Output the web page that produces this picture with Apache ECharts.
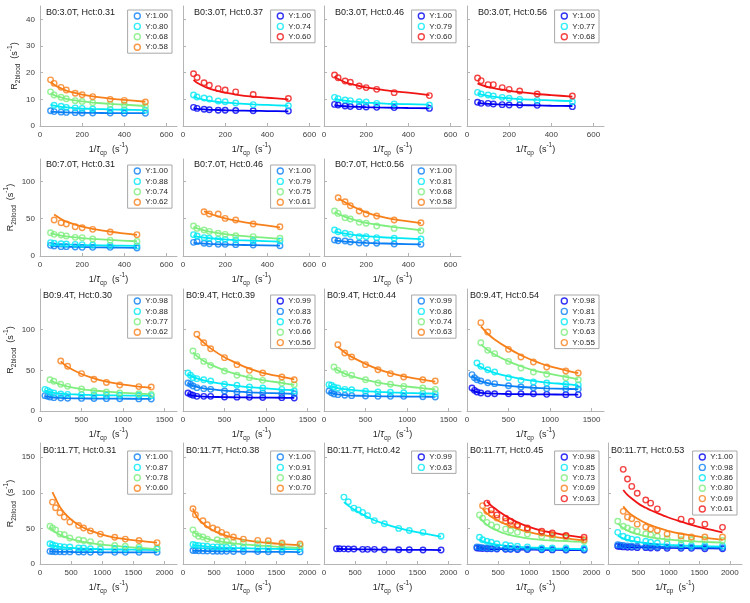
<!DOCTYPE html>
<html>
<head>
<meta charset="utf-8">
<script src="https://cdn.jsdelivr.net/npm/echarts@6.0.0/dist/echarts.min.js"></script>
<style>html,body{margin:0;padding:0;background:#fff}#c{width:750px;height:603px}</style>
</head>
<body>
<div id="c"></div>
<script>
// ---------------- DATA ----------------
const x3T = [50, 67, 100, 125, 167, 200, 250, 333, 400, 500];
const x7T = [50, 67, 100, 125, 167, 200, 250, 333, 460];
const x9T = [60, 90, 120, 167, 250, 333, 500, 650, 800, 960, 1190, 1340];
const x11T = [160, 200, 250, 320, 390, 480, 550, 620, 700, 810, 970, 1200, 1370, 1590, 1880];

const xTicks3T = [0, 200, 400, 600];
const xTicks7T = [0, 200, 400, 600];
const xTicks9T = [0, 500, 1000, 1500];
const xTicks11T = [0, 500, 1000, 1500, 2000];
const yTicks3T = [0, 10, 20, 30, 40];
const yTicks7T = [0, 50, 100];
const yTicks9T = [0, 50, 100];
const yTicks11T = [0, 50, 100, 150];

// 3.0 T
const Y_3T_031 = ['Y:1.00', 'Y:0.80', 'Y:0.68', 'Y:0.58'];
const P_3T_031 = [
  [5.7, 5.4, 5.2, 5.1, 5.0, 4.9, 4.9, 4.9, 4.8, 4.8],
  [null, 7.8, 7.4, 7.0, 6.8, 6.6, 6.4, 6.2, 6.0, 5.9],
  [12.8, 11.6, 10.8, 10.2, 9.5, 9.2, 8.7, 8.2, 7.9, 7.3],
  [17.3, 16.0, 14.5, 13.5, 12.3, 11.7, 11.0, 10.0, 9.6, 9.0]];
const F_3T_031 = [
  [5.4, 5.3, 5.15, 5.1, 5.0, 4.95, 4.9, 4.85, 4.8, 4.8],
  [8.0, 7.6, 7.2, 7.0, 6.7, 6.55, 6.4, 6.2, 6.1, 5.95],
  [12.3, 11.6, 10.7, 10.2, 9.6, 9.2, 8.8, 8.3, 8.0, 7.5],
  [16.5, 15.5, 14.1, 13.3, 12.4, 11.8, 11.1, 10.3, 9.8, 9.1]];

const Y_3T_037 = ['Y:1.00', 'Y:0.74', 'Y:0.60'];
const P_3T_037 = [
  [7.0, 6.6, 6.3, 6.1, 5.9, 5.9, 5.8, 5.7, null, 5.6],
  [11.6, 10.9, 10.5, 10.1, 9.4, 9.1, 8.6, 8.0, null, 7.6],
  [19.6, 18.2, 16.2, 15.3, 14.0, 13.5, 12.8, 11.8, null, 10.3]];
const F_3T_037 = [
  [6.6, 6.4, 6.2, 6.1, 6.0, 5.9, 5.8, 5.7, 5.6, 5.5],
  [11.0, 10.5, 9.8, 9.5, 9.0, 8.8, 8.5, 8.1, 7.9, 7.6],
  [17.3, 16.2, 14.8, 14.0, 13.1, 12.5, 11.8, 11.0, 10.6, 10.0]];

const Y_3T_046 = ['Y:1.00', 'Y:0.79', 'Y:0.60'];
const P_3T_046 = [
  [8.1, 7.9, 7.5, 7.3, 7.25, 7.1, 7.0, 6.9, null, 6.6],
  [10.75, 10.25, 9.75, 9.5, 9.1, 9.0, 8.5, 8.25, null, 7.9],
  [19.1, 18.1, 16.9, 16.4, 15.0, 14.4, 13.75, 12.5, null, 11.4]];
const F_3T_046 = [
  [7.8, 7.6, 7.4, 7.3, 7.15, 7.05, 6.95, 6.85, 6.75, 6.65],
  [10.3, 9.9, 9.5, 9.3, 9.0, 8.8, 8.6, 8.3, 8.2, 8.0],
  [18.6, 17.6, 16.4, 15.8, 15.0, 14.5, 13.9, 13.0, 12.5, 11.6]];

const Y_3T_056 = ['Y:1.00', 'Y:0.77', 'Y:0.68'];
const P_3T_056 = [
  [8.9, 8.5, 8.5, 8.25, 8.0, 7.9, 7.9, 7.75, null, 7.25],
  [12.6, 12.0, 11.6, 11.25, 10.75, 10.4, 10.0, 9.6, null, 9.1],
  [18.0, 17.0, 15.5, 15.5, 14.4, 13.75, 13.1, 12.0, null, 11.25]];
const F_3T_056 = [
  [8.6, 8.5, 8.3, 8.2, 8.05, 7.95, 7.85, 7.7, 7.6, 7.5],
  [12.2, 11.8, 11.3, 11.0, 10.6, 10.4, 10.1, 9.8, 9.6, 9.3],
  [16.0, 15.4, 14.6, 14.2, 13.6, 13.2, 12.7, 12.0, 11.6, 11.0]];

// 7.0 T
const Y_7T_031 = ['Y:1.00', 'Y:0.88', 'Y:0.74', 'Y:0.62'];
const P_7T_031 = [
  [14.3, 13.4, 12.5, 12.5, 12.0, 11.6, 11.6, 11.6, 10.7],
  [17.9, 17.0, 16.5, 16.1, 15.6, 15.2, 14.7, 14.3, 13.4],
  [31.2, 29.0, 28.1, 26.8, 25.0, 24.6, 22.8, 21.0, 19.6],
  [null, 48.2, 44.6, 42.9, 39.3, 37.9, 35.7, 32.1, 28.6]];
const F_7T_031 = [
  [13.5, 13.2, 12.8, 12.5, 12.2, 12.0, 11.7, 11.4, 11.0],
  [16.5, 16.2, 15.7, 15.4, 15.0, 14.8, 14.5, 14.1, 13.6],
  [30.5, 29.2, 27.4, 26.3, 24.9, 24.0, 22.9, 21.5, 19.8],
  [null, 55.5, 49.5, 46.0, 42.0, 39.5, 36.5, 32.8, 28.3]];

const Y_7T_046 = ['Y:1.00', 'Y:0.79', 'Y:0.75', 'Y:0.61'];
const P_7T_046 = [
  [18.3, 19.2, 17.0, 16.5, 15.6, 15.6, 15.2, 14.7, 13.8],
  [28.6, 26.8, 24.6, 23.7, 22.3, 22.3, 21.4, 20.5, 20.1],
  [40.2, 37.0, 34.8, 33.0, 30.4, 29.0, 27.2, 25.9, 23.7],
  [null, null, 59.4, 56.2, 56.2, 50.4, 48.2, 42.9, 39.3]];
const F_7T_046 = [
  [17.6, 17.2, 16.6, 16.2, 15.7, 15.4, 15.0, 14.5, 13.8],
  [27.0, 26.0, 24.6, 23.8, 22.8, 22.2, 21.4, 20.5, 19.3],
  [39.0, 37.0, 34.3, 32.7, 30.6, 29.3, 27.7, 25.7, 23.0],
  [null, null, 60.0, 57.0, 53.0, 50.5, 47.5, 43.5, 38.5]];

const Y_7T_056 = ['Y:1.00', 'Y:0.81', 'Y:0.68', 'Y:0.58'];
const P_7T_056 = [
  [21.4, 20.5, 20.1, 18.8, 17.4, 17.0, 17.0, 16.1, 15.6],
  [34.8, 32.6, 30.4, 29.0, 25.9, 25.9, 24.6, 23.7, 22.8],
  [60.3, 57.1, 51.3, 49.6, 45.1, 43.8, 40.2, 37.0, 33.9],
  [null, 78.1, 72.8, 67.4, 60.3, 56.2, 53.6, 48.2, 44.6]];
const F_7T_056 = [
  [20.8, 20.2, 19.3, 18.8, 18.0, 17.6, 17.1, 16.4, 15.6],
  [33.0, 31.8, 30.0, 29.0, 27.5, 26.6, 25.5, 24.2, 22.6],
  [59.0, 56.5, 52.5, 50.0, 46.5, 44.5, 42.0, 38.8, 34.5],
  [null, 77.0, 72.0, 68.0, 62.5, 58.5, 54.0, 49.0, 44.0]];

// 9.4 T
const Y_9T_030 = ['Y:0.98', 'Y:0.88', 'Y:0.77', 'Y:0.62'];
const P_9T_030 = [
  [18.9, 18.0, 17.2, 16.4, 16.0, 15.6, 15.5, 15.3, 15.2, 15.0, 14.9, 14.8],
  [26.6, 25.4, 23.4, 22.1, 20.9, 20.5, 20.1, 19.7, 19.3, 19.3, 19.3, 18.9],
  [null, null, 38.5, 36.5, 32.8, 30.3, 27.0, 24.6, 23.4, 22.1, 21.3, 20.5],
  [null, null, null, null, 61.5, 55.0, 46.0, 39.0, 35.0, 32.0, 30.0, 29.5]];
const F_9T_030 = [
  [18.3, 17.6, 17.1, 16.6, 16.1, 15.8, 15.5, 15.3, 15.2, 15.1, 15.0, 14.9],
  [25.0, 24.0, 23.2, 22.3, 21.3, 20.7, 20.0, 19.6, 19.3, 19.1, 18.9, 18.7],
  [null, null, 37.5, 35.5, 32.3, 30.0, 27.0, 25.2, 23.8, 22.6, 21.3, 20.5],
  [null, null, null, null, 61.0, 54.0, 45.5, 40.0, 36.0, 33.0, 30.0, 28.5]];

const Y_9T_039 = ['Y:0.99', 'Y:0.83', 'Y:0.76', 'Y:0.66', 'Y:0.56'];
const P_9T_039 = [
  [22.1, 20.5, 19.3, 18.0, 18.0, 18.0, 17.2, 17.0, 16.8, 16.6, 16.4, 16.0],
  [34.4, 32.8, 30.7, 28.7, 27.5, 26.6, 24.6, 23.4, 22.5, 22.1, 21.3, 21.3],
  [46.7, 43.9, 41.0, 39.8, 38.5, 36.9, 32.8, 31.6, 29.5, 28.3, 26.6, 24.6],
  [null, null, 73.8, 67.2, 61.0, 56.1, 49.2, 43.9, 41.0, 37.7, 34.4, 32.4],
  [null, null, null, 94.3, 84.0, 76.6, 65.6, 57.0, 50.0, 46.7, 41.8, 38.5]];
const F_9T_039 = [
  [21.0, 19.8, 19.0, 18.3, 17.7, 17.4, 17.0, 16.8, 16.6, 16.5, 16.3, 16.2],
  [34.0, 32.5, 31.2, 29.6, 27.9, 26.8, 25.0, 23.9, 23.0, 22.3, 21.6, 21.2],
  [45.0, 43.5, 42.0, 40.0, 37.6, 35.8, 33.0, 31.0, 29.4, 28.0, 26.4, 25.5],
  [null, null, 72.0, 67.5, 61.5, 57.0, 50.0, 45.0, 41.0, 38.0, 34.5, 32.0],
  [null, null, null, 92.0, 84.0, 77.0, 66.0, 58.5, 52.0, 47.0, 42.0, 39.0]];

const Y_9T_044 = ['Y:0.99', 'Y:0.86', 'Y:0.74', 'Y:0.63'];
const P_9T_044 = [
  [24.6, 22.5, 20.9, 20.1, 19.3, 18.9, 18.4, 18.0, 18.0, 18.0, 17.6, 17.2],
  [32.4, 31.6, 29.5, 28.3, 26.6, 26.2, 24.2, 23.4, 23.0, 22.5, 21.7, 21.3],
  [null, null, 54.1, 50.0, 45.9, 43.9, 38.5, 34.4, 32.8, 30.3, 28.3, 26.6],
  [null, null, null, 81.6, 71.3, 66.4, 57.0, 50.8, 45.9, 41.8, 38.5, 36.9]];
const F_9T_044 = [
  [23.5, 22.2, 21.3, 20.4, 19.5, 19.0, 18.5, 18.2, 18.0, 17.8, 17.6, 17.4],
  [31.0, 30.0, 29.2, 28.2, 26.8, 25.9, 24.4, 23.5, 22.8, 22.3, 21.7, 21.3],
  [null, null, 53.0, 50.0, 46.0, 43.0, 38.3, 35.0, 32.5, 30.5, 28.0, 26.5],
  [null, null, null, 79.0, 72.0, 66.5, 58.0, 51.5, 46.5, 42.5, 38.5, 36.0]];

const Y_9T_054 = ['Y:0.98', 'Y:0.81', 'Y:0.73', 'Y:0.63', 'Y:0.55'];
const P_9T_054 = [
  [28.3, 25.4, 23.4, 22.1, 21.3, 21.3, 21.3, 21.3, 21.3, 20.5, 20.1, 20.1],
  [44.7, 41.0, 38.5, 36.9, 34.8, 33.6, 31.1, 29.5, 28.7, 27.5, 27.0, 27.0],
  [null, null, 59.0, 54.9, 50.8, 48.0, 41.0, 37.7, 35.7, 34.4, 32.8, 32.0],
  [null, null, null, 84.0, 74.6, 70.5, 61.0, 52.9, 48.0, 45.1, 41.0, 38.5],
  [null, null, null, 108.6, 97.1, null, 75.8, 66.4, 60.2, 54.1, 49.2, 46.7]];
const F_9T_054 = [
  [26.0, 24.2, 23.2, 22.3, 21.6, 21.3, 20.9, 20.7, 20.5, 20.4, 20.2, 20.1],
  [43.0, 40.5, 38.6, 36.5, 34.3, 32.8, 30.8, 29.5, 28.6, 27.9, 27.2, 26.8],
  [null, null, 57.0, 54.0, 50.0, 47.0, 42.5, 39.5, 37.0, 35.0, 33.0, 31.5],
  [null, null, null, 82.0, 75.0, 69.5, 61.0, 55.0, 50.0, 46.5, 42.0, 39.0],
  [null, null, null, 104.0, 95.0, 88.0, 77.0, 68.5, 62.0, 56.0, 50.0, 46.5]];

// 11.7 T
const Y_11T_031 = ['Y:1.00', 'Y:0.87', 'Y:0.78', 'Y:0.60'];
const P_11T_031 = [
  [17.8, 17.5, 17.3, 17.3, 17.0, 17.0, null, 16.8, 16.8, 16.6, 16.6, 16.4, 16.4, 16.4, 16.4],
  [28.5, 27.1, 25.7, 24.8, 23.8, 23.8, null, 22.4, 22.4, 21.5, 21.5, 21.5, 21.0, 21.0, 21.0],
  [53.0, 50.5, 48.0, 42.0, 41.0, 36.5, null, 34.0, 33.0, 31.5, 28.5, 26.0, 25.0, 24.0, 22.5],
  [null, 87.0, 79.0, 72.0, 66.0, 59.0, null, 54.0, 50.5, 46.5, 42.0, 37.5, 35.0, 33.0, 30.0]];
const F_11T_031 = [
  [17.6, 17.4, 17.3, 17.1, 17.0, 16.9, 16.8, 16.8, 16.7, 16.6, 16.5, 16.4, 16.3, 16.3, 16.2],
  [27.0, 26.0, 25.0, 24.0, 23.3, 22.7, 22.3, 22.0, 21.7, 21.3, 20.9, 20.5, 20.3, 20.0, 19.7],
  [52.0, 48.0, 44.5, 41.0, 38.5, 35.5, 34.0, 32.5, 31.0, 29.5, 27.5, 25.5, 24.0, 22.5, 21.0],
  [null, 101.0, 92.0, 80.0, 72.0, 64.0, 59.0, 55.0, 51.0, 47.0, 42.0, 37.0, 35.0, 32.5, 30.0]];

const Y_11T_038 = ['Y:1.00', 'Y:0.91', 'Y:0.80', 'Y:0.70'];
const P_11T_038 = [
  [19.0, 18.8, 18.6, 18.4, 18.2, 18.0, 18.0, 17.8, 17.8, 17.6, 17.5, 17.4, 17.3, 17.2, 17.0],
  [27.5, 26.5, 26.0, 25.5, 25.0, 24.0, 24.0, 23.5, 23.5, 23.0, 23.0, 22.5, 22.0, 22.0, 21.5],
  [48.0, 42.0, 39.0, 38.0, 35.0, null, 34.0, 32.0, 32.0, 30.4, 29.4, 28.5, 28.0, 27.0, 25.7],
  [77.6, 69.2, null, 60.7, 55.1, 50.5, 48.1, 44.4, 41.1, 37.9, 35.0, 33.2, 32.7, 29.4, 28.0]];
const F_11T_038 = [
  [18.6, 18.5, 18.4, 18.3, 18.2, 18.0, 17.9, 17.8, 17.7, 17.6, 17.4, 17.2, 17.1, 17.0, 16.8],
  [27.0, 26.3, 25.7, 25.0, 24.5, 24.0, 23.6, 23.3, 23.0, 22.6, 22.2, 21.7, 21.4, 21.1, 20.6],
  [46.0, 43.0, 40.0, 37.5, 35.5, 33.5, 32.3, 31.3, 30.2, 29.0, 27.6, 26.0, 25.0, 23.8, 22.5],
  [78.0, 70.0, 63.0, 57.0, 52.0, 47.5, 44.5, 42.0, 39.5, 37.0, 34.0, 31.0, 29.5, 28.0, 26.5]];

const Y_11T_042 = ['Y:0.99', 'Y:0.63'];
const P_11T_042 = [
  [null, 21.5, 21.5, 21.3, 21.0, 21.0, null, 20.6, 20.6, 20.6, 20.1, 20.1, 20.1, 19.6, 19.6],
  [null, null, null, 94.0, 87.5, 78.5, 76.0, 72.5, 68.0, 61.0, 56.5, 50.0, 47.0, 44.5, 39.0]];
const F_11T_042 = [
  [null, 21.2, 21.1, 21.0, 20.9, 20.8, 20.7, 20.6, 20.5, 20.4, 20.2, 20.0, 19.9, 19.8, 19.6],
  [null, null, null, 87.0, 82.0, 76.5, 73.0, 69.5, 66.0, 61.5, 56.5, 50.5, 47.0, 43.0, 38.5]];

const Y_11T_045 = ['Y:0.98', 'Y:0.98', 'Y:0.85', 'Y:0.73', 'Y:0.69', 'Y:0.63'];
const P_11T_045 = [
  [22.4, 22.0, 21.8, 21.5, 21.3, 21.0, null, 20.8, 20.6, 20.4, 20.2, 20.0, 19.8, 19.6, 19.6],
  [24.0, 23.5, 23.0, 22.5, 22.3, 22.0, null, 21.6, 21.4, 21.2, 21.0, 20.8, 20.6, 20.5, 20.5],
  [null, 37.5, 34.0, 32.0, 30.5, 28.5, null, 27.0, 25.7, 25.0, 24.0, 22.5, 22.5, 22.5, 22.5],
  [null, 69.0, 64.5, 58.5, 55.0, 52.0, null, 49.0, 47.0, 44.5, 42.0, 39.0, 38.0, 36.5, 32.0],
  [null, null, 82.0, 74.0, 70.5, 64.5, null, 60.0, 55.0, 53.0, 48.0, 43.5, 41.0, 39.0, 34.0],
  [null, null, null, 85.5, 76.0, 69.0, null, 64.5, 60.0, 55.0, 50.5, 46.0, 43.5, 40.0, 37.5]];
const F_11T_045 = [
  [21.8, 21.6, 21.4, 21.2, 21.0, 20.9, 20.8, 20.7, 20.6, 20.4, 20.2, 20.0, 19.8, 19.7, 19.5],
  [23.5, 23.2, 22.9, 22.6, 22.3, 22.1, 21.9, 21.8, 21.6, 21.4, 21.2, 20.9, 20.7, 20.5, 20.3],
  [null, 34.0, 32.0, 30.0, 28.7, 27.3, 26.5, 25.8, 25.1, 24.3, 23.4, 22.5, 22.0, 21.5, 21.0],
  [null, 66.0, 60.5, 55.0, 51.0, 47.0, 44.5, 42.5, 40.5, 38.5, 36.0, 34.0, 33.0, 32.0, 31.0],
  [null, null, 78.0, 71.0, 66.5, 62.0, 58.5, 56.0, 53.0, 49.5, 45.5, 41.0, 38.5, 36.0, 33.0],
  [null, null, null, 88.0, 82.0, 76.0, 71.5, 67.5, 63.5, 58.5, 53.0, 47.0, 44.0, 40.5, 37.0]];

const Y_11T_053 = ['Y:1.00', 'Y:0.98', 'Y:0.86', 'Y:0.80', 'Y:0.69', 'Y:0.61'];
const P_11T_053 = [
  [25.0, 24.5, 24.0, 23.5, 23.5, 23.0, null, 23.0, 22.5, 22.5, 22.0, 22.0, 22.0, 21.5, 21.5],
  [27.0, 26.5, 26.0, 25.5, 25.0, 25.0, null, 24.5, 24.5, 24.0, 24.0, 23.5, 23.5, 23.5, 23.0],
  [44.5, null, 39.0, 36.5, 35.0, 34.0, null, 32.0, 30.5, 29.5, 28.5, 27.0, 26.0, 26.0, 25.5],
  [60.0, null, 53.0, 50.5, 48.0, 46.0, null, 42.5, 41.0, 39.0, 35.5, 34.0, 34.0, 34.0, 33.0],
  [null, null, 74.0, 66.0, 63.5, 56.0, null, 52.0, 49.0, 47.0, 42.0, 39.5, 38.0, 38.0, 38.0],
  [null, null, 133.0, 119.5, 109.0, 99.5, null, 90.0, 85.5, 77.5, null, 63.0, 60.0, 56.0, 51.5]];
const F_11T_053 = [
  [24.5, 24.3, 24.1, 23.8, 23.6, 23.4, 23.3, 23.2, 23.0, 22.9, 22.7, 22.4, 22.2, 22.0, 21.8],
  [26.5, 26.2, 25.9, 25.5, 25.2, 24.9, 24.7, 24.5, 24.3, 24.1, 23.8, 23.5, 23.3, 23.1, 22.8],
  [40.0, 38.0, 36.0, 34.0, 32.5, 31.0, 30.2, 29.5, 28.7, 27.9, 27.0, 26.0, 25.5, 25.0, 24.5],
  [57.0, 54.0, 50.5, 47.0, 44.5, 42.0, 40.5, 39.0, 37.5, 36.0, 34.5, 32.8, 32.0, 31.0, 30.0],
  [null, null, 81.0, 74.0, 69.0, 64.0, 60.5, 57.5, 54.5, 51.0, 47.0, 42.5, 40.0, 37.0, 34.0],
  [null, null, 104.0, 97.0, 92.0, 86.0, 82.0, 79.0, 75.5, 71.5, 66.0, 59.5, 55.0, 50.0, 44.5]];

// ---------------- LAYOUT / STYLE ----------------
const COL = { B: '#0000f2', A: '#0a7ff5', C: '#00e8f5', G: '#7eee7e', O: '#f7801a', R: '#f01414' };
const colLeft = [40, 183, 324, 467, 608];
const colW = [137, 137, 137, 137, 134];
const rowTop = [6, 159, 289, 443];
const rowH = [120, 97, 122, 121];
const rowXMax = [650, 650, 1650, 2200];
const rowYMax = [45, 130, 150, 170];
const rowXTicks = [xTicks3T, xTicks7T, xTicks9T, xTicks11T];
const rowYTicks = [yTicks3T, yTicks7T, yTicks9T, yTicks11T];
const rowLegendOff = [4, 6, 6, 8];
const rowTitleOff = [2, 1, 2, 3];

const panels = [
  { t: 'B0:3.0T, Hct:0.31', r: 0, c: 0, x: x3T, y: Y_3T_031, p: P_3T_031, f: F_3T_031, k: 'ACGO' },
  { t: 'B0:3.0T, Hct:0.37', r: 0, c: 1, x: x3T, y: Y_3T_037, p: P_3T_037, f: F_3T_037, k: 'BCR' },
  { t: 'B0:3.0T, Hct:0.46', r: 0, c: 2, x: x3T, y: Y_3T_046, p: P_3T_046, f: F_3T_046, k: 'BCR' },
  { t: 'B0:3.0T, Hct:0.56', r: 0, c: 3, x: x3T, y: Y_3T_056, p: P_3T_056, f: F_3T_056, k: 'BCR' },
  { t: 'B0:7.0T, Hct:0.31', r: 1, c: 0, x: x7T, y: Y_7T_031, p: P_7T_031, f: F_7T_031, k: 'ACGO' },
  { t: 'B0:7.0T, Hct:0.46', r: 1, c: 1, x: x7T, y: Y_7T_046, p: P_7T_046, f: F_7T_046, k: 'ACGO' },
  { t: 'B0:7.0T, Hct:0.56', r: 1, c: 2, x: x7T, y: Y_7T_056, p: P_7T_056, f: F_7T_056, k: 'ACGO' },
  { t: 'B0:9.4T, Hct:0.30', r: 2, c: 0, x: x9T, y: Y_9T_030, p: P_9T_030, f: F_9T_030, k: 'ACGO' },
  { t: 'B0:9.4T, Hct:0.39', r: 2, c: 1, x: x9T, y: Y_9T_039, p: P_9T_039, f: F_9T_039, k: 'BACGO' },
  { t: 'B0:9.4T, Hct:0.44', r: 2, c: 2, x: x9T, y: Y_9T_044, p: P_9T_044, f: F_9T_044, k: 'ACGO' },
  { t: 'B0:9.4T, Hct:0.54', r: 2, c: 3, x: x9T, y: Y_9T_054, p: P_9T_054, f: F_9T_054, k: 'BACGO' },
  { t: 'B0:11.7T, Hct:0.31', r: 3, c: 0, x: x11T, y: Y_11T_031, p: P_11T_031, f: F_11T_031, k: 'ACGO' },
  { t: 'B0:11.7T, Hct:0.38', r: 3, c: 1, x: x11T, y: Y_11T_038, p: P_11T_038, f: F_11T_038, k: 'ACGO' },
  { t: 'B0:11.7T, Hct:0.42', r: 3, c: 2, x: x11T, y: Y_11T_042, p: P_11T_042, f: F_11T_042, k: 'BC' },
  { t: 'B0:11.7T, Hct:0.45', r: 3, c: 3, x: x11T, y: Y_11T_045, p: P_11T_045, f: F_11T_045, k: 'BACGOR' },
  { t: 'B0:11.7T, Hct:0.53', r: 3, c: 4, x: x11T, y: Y_11T_053, p: P_11T_053, f: F_11T_053, k: 'BACGOR' }
];

const AX = '#b4b4b4', TXT = '#404040', DARK = '#262626';
const nameRich = {
  t: { fontStyle: 'italic', fontSize: 10, lineHeight: 15, color: DARK },
  s: { fontSize: 6.5, lineHeight: 7, verticalAlign: 'bottom', color: DARK },
  p: { fontSize: 6.5, lineHeight: 7, verticalAlign: 'top', color: DARK }
};
const plain = v => String(v);

const grid = [], xAxis = [], yAxis = [], title = [], legend = [], series = [];
panels.forEach((pn, i) => {
  const L = colLeft[pn.c], W = colW[pn.c], T = rowTop[pn.r], H = rowH[pn.r];
  grid.push({ left: L, top: T, width: W, height: H, outerBoundsMode: 'none', containLabel: false });
  xAxis.push({
    type: 'value', gridIndex: i, min: 0, max: rowXMax[pn.r],
    axisLine: { show: true, lineStyle: { color: AX, width: 1 } },
    axisTick: { show: true, inside: true, length: 3, lineStyle: { color: AX }, customValues: rowXTicks[pn.r] },
    axisLabel: { color: TXT, fontSize: 8, margin: 5, customValues: rowXTicks[pn.r], formatter: plain },
    splitLine: { show: false },
    name: '1/{t|τ}{s|cp}  (s{p|-1})', nameLocation: 'middle', nameGap: 16,
    nameTextStyle: { fontSize: 9, color: DARK, lineHeight: 15, rich: nameRich }
  });
  yAxis.push({
    type: 'value', gridIndex: i, min: 0, max: rowYMax[pn.r],
    axisLine: { show: true, lineStyle: { color: AX, width: 1 } },
    axisTick: { show: true, inside: true, length: 3, lineStyle: { color: AX }, customValues: rowYTicks[pn.r] },
    axisLabel: { show: pn.c === 0, color: TXT, fontSize: 8, margin: 5, customValues: rowYTicks[pn.r], formatter: plain },
    splitLine: { show: false },
    name: pn.c === 0 ? 'R{s|2blood}  (s{p|-1})' : '', nameLocation: 'middle', nameGap: 18, nameRotate: 90,
    nameTextStyle: { fontSize: 9, color: DARK, lineHeight: 15, rich: nameRich }
  });
  const tOff = pn.r < 2 ? (pn.c === 0 ? 6 : 11) : 3;
  title.push({ text: pn.t, left: L + tOff, top: T + rowTitleOff[pn.r], padding: 0,
    textStyle: { fontSize: 9, fontWeight: 'normal', color: '#1a1a1a' } });
  const names = pn.y.map(y => i + '|' + y);
  legend.push({
    orient: 'vertical', right: 750 - (L + W) + 5, top: T + rowLegendOff[pn.r],
    data: names, formatter: n => n.split('|')[1], selectedMode: false,
    itemWidth: 6, itemHeight: 6, itemGap: 0.4, padding: [1, 4, 1, 6],
    borderColor: '#a8a8a8', borderWidth: 1, backgroundColor: '#fff', borderRadius: 0,
    itemStyle: { borderWidth: 1.4 },
    textStyle: { fontSize: 8, color: DARK, lineHeight: 10 }
  });
  pn.p.forEach((vals, k) => {
    const c = COL[pn.k[k]];
    const fitData = pn.x.map((x, j) => [x, pn.f[k][j]]).filter(d => d[1] != null);
    series.push({ type: 'line', xAxisIndex: i, yAxisIndex: i, data: fitData, smooth: 0.3,
      showSymbol: false, symbol: 'none', lineStyle: { color: c, width: 1.8 }, itemStyle: { color: c },
      silent: true, z: 2, legendHoverLink: false });
    const ptData = pn.x.map((x, j) => [x, vals[j]]).filter(d => d[1] != null);
    series.push({ type: 'scatter', name: names[k], xAxisIndex: i, yAxisIndex: i, data: ptData,
      symbol: 'circle', symbolSize: 5.5,
      itemStyle: { color: 'rgba(255,255,255,0)', borderColor: c, borderWidth: 1.4 }, z: 3 });
  });
});

const chart = echarts.init(document.getElementById('c'), null, { renderer: 'canvas' });
chart.setOption({
  animation: false,
  backgroundColor: '#fff',
  textStyle: { fontFamily: 'Liberation Sans, Arial, Helvetica, sans-serif' },
  grid, xAxis, yAxis, title, legend, series
});
</script>
</body>
</html>
